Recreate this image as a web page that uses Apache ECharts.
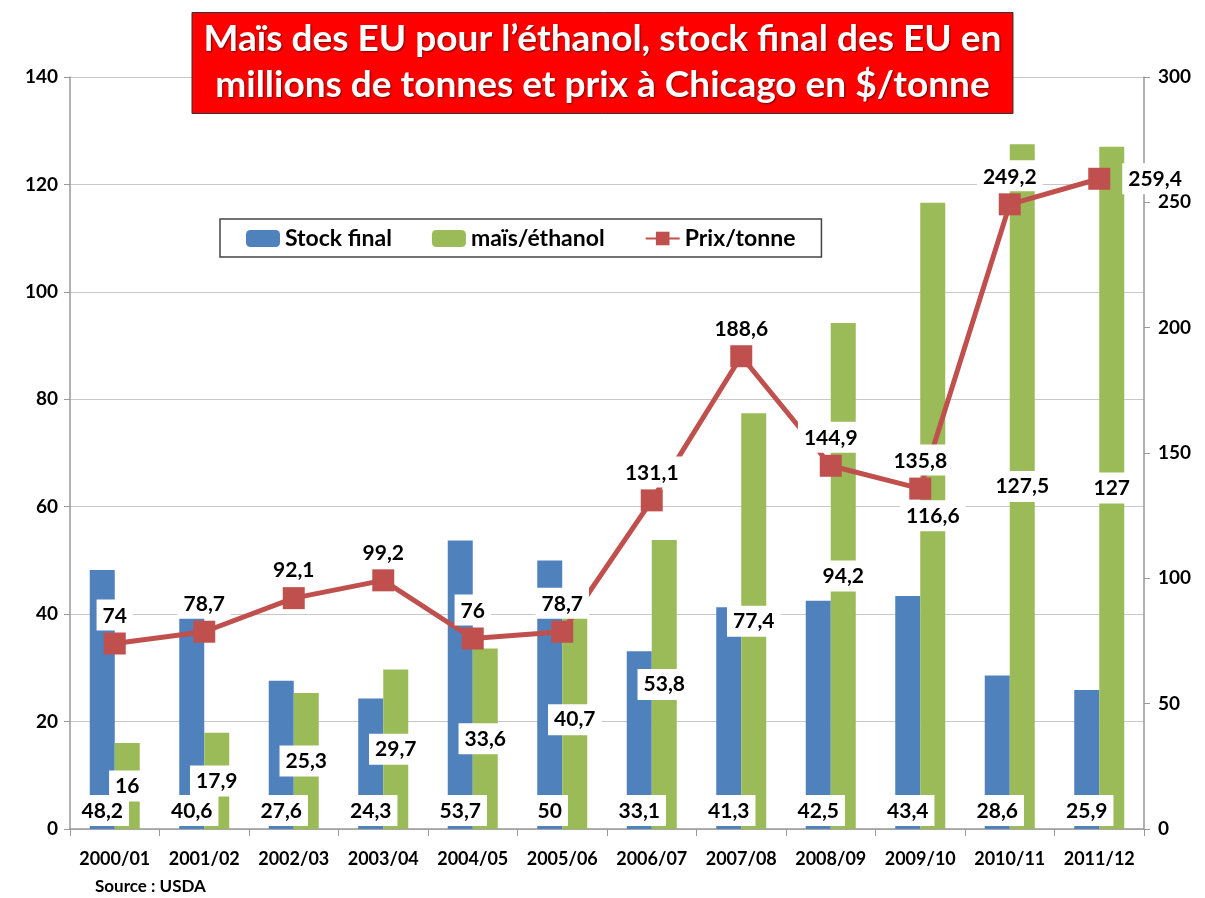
<!DOCTYPE html>
<html>
<head>
<meta charset="utf-8">
<script src="https://cdn.jsdelivr.net/npm/echarts@6/dist/echarts.min.js"></script>
<style>
  html, body { margin: 0; padding: 0; background: #fff; }
  #chart { width: 1205px; height: 898px; }
</style>
</head>
<body>
<div id="chart"></div>
<script>
// campagnes
const campagnes = ["2000/01", "2001/02", "2002/03", "2003/04", "2004/05", "2005/06",
  "2006/07", "2007/08", "2008/09", "2009/10", "2010/11", "2011/12"];

// millions de tonnes
const stockFinal = [48.2, 40.6, 27.6, 24.3, 53.7, 50, 33.1, 41.3, 42.5, 43.4, 28.6, 25.9];
const maisEthanol = [16, 17.9, 25.3, 29.7, 33.6, 40.7, 53.8, 77.4, 94.2, 116.6, 127.5, 127];

// $/tonne
const prixTonne = [74, 78.7, 92.1, 99.2, 76, 78.7, 131.1, 188.6, 144.9, 135.8, 249.2, 259.4];

const FONT = "Lato, 'Liberation Sans', sans-serif";
const BLUE = "#4F81BD";
const GREEN = "#9BBB59";
const RED = "#C0504D";

const virgule = (v) => String(v).replace(".", ",");

const labelBox = {
  show: true,
  color: "#000",
  fontFamily: FONT,
  fontWeight: "bold",
  fontSize: 21,
  backgroundColor: "#fff",
  padding: [6, 6, 4, 6],
  formatter: (p) => virgule(p.value)
};

const chart = echarts.init(document.getElementById("chart"));

const option = {
  backgroundColor: "#fff",
  textStyle: { fontFamily: FONT },
  title: {
    text: "Maïs des EU pour l’éthanol, stock final des EU en\nmillions de tonnes et prix à Chicago en $/tonne",
    left: "center",
    top: 12,
    backgroundColor: "#FF0000",
    borderColor: "#333",
    borderWidth: 1,
    padding: [4, 12, 6, 12],
    textStyle: {
      color: "#fff",
      fontFamily: FONT,
      fontWeight: "bold",
      fontSize: 37,
      lineHeight: 46,
      align: "center",
      textShadowColor: "rgba(0,0,0,0.55)",
      textShadowBlur: 2,
      textShadowOffsetX: 1,
      textShadowOffsetY: 1
    }
  },
  legend: {
    left: 220,
    top: 219,
    padding: [8, 26, 7, 26],
    borderColor: "#444",
    borderWidth: 1.5,
    itemWidth: 34,
    itemHeight: 17,
    itemGap: 40,
    textStyle: { fontFamily: FONT, fontWeight: "bold", fontSize: 23, color: "#000" },
    data: ["Stock final", "maïs/éthanol", "Prix/tonne"]
  },
  grid: { left: 70, right: 61, top: 77, bottom: 69, containLabel: false },
  xAxis: {
    type: "category",
    data: campagnes,
    boundaryGap: true,
    axisLine: { lineStyle: { color: "#999", width: 1.5 } },
    axisTick: { show: true, length: 7, lineStyle: { color: "#999" } },
    axisLabel: { color: "#000", fontFamily: FONT, fontWeight: "bold", fontSize: 18, margin: 21, interval: 0 }
  },
  yAxis: [
    {
      type: "value",
      min: 0,
      max: 140,
      interval: 20,
      axisLine: { show: true, lineStyle: { color: "#999", width: 1.5 } },
      axisTick: { show: true, length: 6, lineStyle: { color: "#999" } },
      splitLine: { lineStyle: { color: "#c8c8c8", width: 1.2 } },
      axisLabel: { color: "#000", fontFamily: FONT, fontWeight: "bold", fontSize: 19, margin: 12 }
    },
    {
      type: "value",
      min: 0,
      max: 300,
      interval: 50,
      axisLine: { show: true, lineStyle: { color: "#999", width: 1.5 } },
      axisTick: { show: true, length: 6, lineStyle: { color: "#999" } },
      splitLine: { show: false },
      axisLabel: { color: "#000", fontFamily: FONT, fontWeight: "bold", fontSize: 19, margin: 14 }
    }
  ],
  series: [
    {
      name: "Stock final",
      type: "bar",
      data: stockFinal,
      barWidth: 25,
      barGap: "0%",
      itemStyle: { color: BLUE },
      label: Object.assign({}, labelBox, { position: "insideBottom", distance: 3 }),
      z: 2
    },
    {
      name: "maïs/éthanol",
      type: "bar",
      data: maisEthanol,
      barWidth: 25,
      itemStyle: { color: GREEN },
      label: Object.assign({}, labelBox, { position: "inside" }),
      z: 2
    },
    {
      name: "Prix/tonne",
      type: "line",
      yAxisIndex: 1,
      data: prixTonne.map((v, i) => (i === prixTonne.length - 1
        ? { value: v, label: { position: "right", distance: 12 } }
        : v)),
      symbol: "rect",
      symbolSize: 22,
      lineStyle: { color: RED, width: 5 },
      itemStyle: { color: RED, borderRadius: 3 },
      label: Object.assign({}, labelBox, { position: "top", distance: 2 }),
      z: 4
    }
  ],
  graphic: [
    {
      type: "text",
      left: 95,
      top: 878,
      style: { text: "Source : USDA", fill: "#000", font: "bold 17px " + FONT }
    }
  ]
};

chart.setOption(option);
</script>
</body>
</html>
